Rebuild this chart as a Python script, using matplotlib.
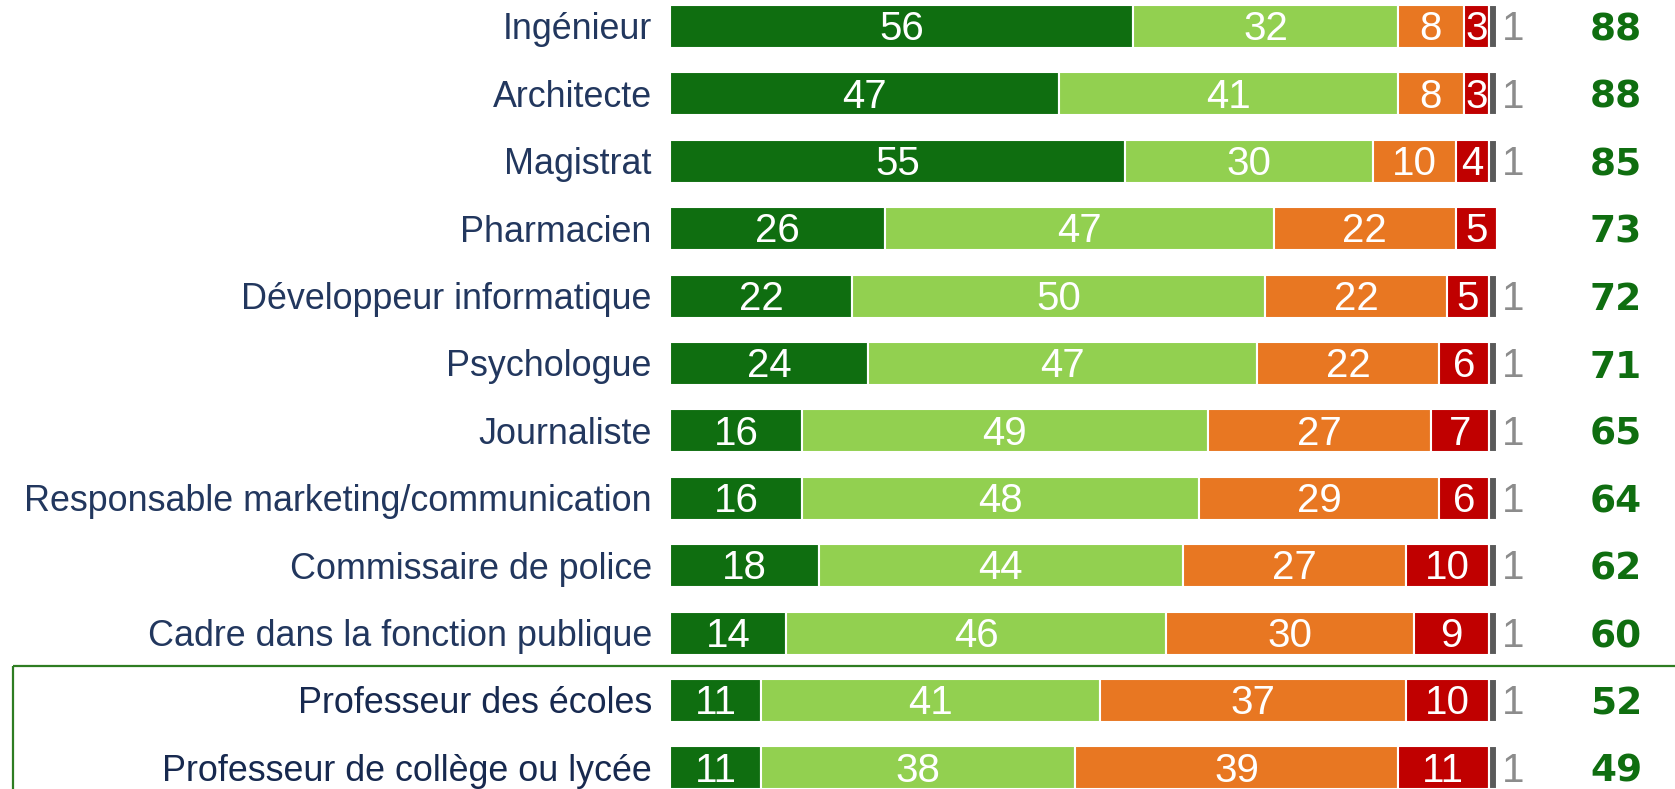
import matplotlib
matplotlib.use("Agg")
import matplotlib.pyplot as plt
from matplotlib.patches import Rectangle

categories = [
    "Ingénieur", "Architecte", "Magistrat", "Pharmacien",
    "Développeur informatique", "Psychologue", "Journaliste",
    "Responsable marketing/communication", "Commissaire de police",
    "Cadre dans la fonction publique", "Professeur des écoles",
    "Professeur de collège ou lycée",
]
tres_bonne = [56, 47, 55, 26, 22, 24, 16, 16, 18, 14, 11, 11]
plutot_bonne = [32, 41, 30, 47, 50, 47, 49, 48, 44, 46, 41, 38]
plutot_mauvaise = [8, 8, 10, 22, 22, 22, 27, 29, 27, 30, 37, 39]
tres_mauvaise = [3, 3, 4, 5, 5, 6, 7, 6, 10, 9, 10, 11]
nsp = [1, 1, 1, 0, 1, 1, 1, 1, 1, 1, 1, 1]
totals = [88, 88, 85, 73, 72, 71, 65, 64, 62, 60, 52, 49]

series = [tres_bonne, plutot_bonne, plutot_mauvaise, tres_mauvaise, nsp]
colors = ["#0f6e10", "#92d050", "#e87722", "#c00000", "#5a5a5a"]

W, H = 1675, 789
fig = plt.figure(figsize=(W / 100, H / 100), dpi=100)
ax = fig.add_axes([0, 0, 1, 1])

# pixel layout mapping
bar_left_px, bar_right_px = 670, 1497
ppu = (bar_right_px - bar_left_px) / 100.0
row0_px, pitch_px = 26.5, 67.4
ax.set_xlim(-bar_left_px / ppu, 100 + (W - bar_right_px) / ppu)
ax.set_ylim((H - row0_px) / pitch_px, -row0_px / pitch_px)
ax.axis("off")

ys = list(range(len(categories)))
label_font = ["Liberation Sans", "DejaVu Sans"]
num_font = ["Liberation Sans", "DejaVu Sans"]

left = [0] * len(categories)
for si, (vals, col) in enumerate(zip(series, colors)):
    ax.barh(ys, vals, left=left, height=0.64, color=col,
            edgecolor="white", linewidth=1.5)
    for i, v in enumerate(vals):
        if v <= 0:
            continue
        if si < 4:
            ax.text(left[i] + v / 2, i - 0.02, str(v), ha="center",
                    va="center_baseline", color="white", fontsize=29,
                    family=num_font)
        else:
            ax.text(left[i] + v + 2.0, i - 0.02, str(v), ha="center",
                    va="center_baseline", color="#8c8c8c", fontsize=29,
                    family=num_font)
    left = [l + v for l, v in zip(left, vals)]

for i, cat in enumerate(categories):
    col = "#17294f" if i >= 10 else "#22375e"
    ax.text(-2.2, i - 0.01, cat, ha="right", va="center_baseline", color=col,
            fontsize=25.8, family=label_font)
    ax.text(114.4, i + 0.0, str(totals[i]), ha="center",
            va="center_baseline", color="#0f6e10", fontsize=27,
            fontweight="bold", family=["DejaVu Sans"])

# highlight box around the teachers rows
box_x = ax.get_xlim()[0] + 13 / ppu
box = Rectangle((box_x, 9.49), 300, 10, fill=False, edgecolor="#2e7d22",
                linewidth=1.6)
ax.add_patch(box)

fig.savefig("out.png", dpi=100)
